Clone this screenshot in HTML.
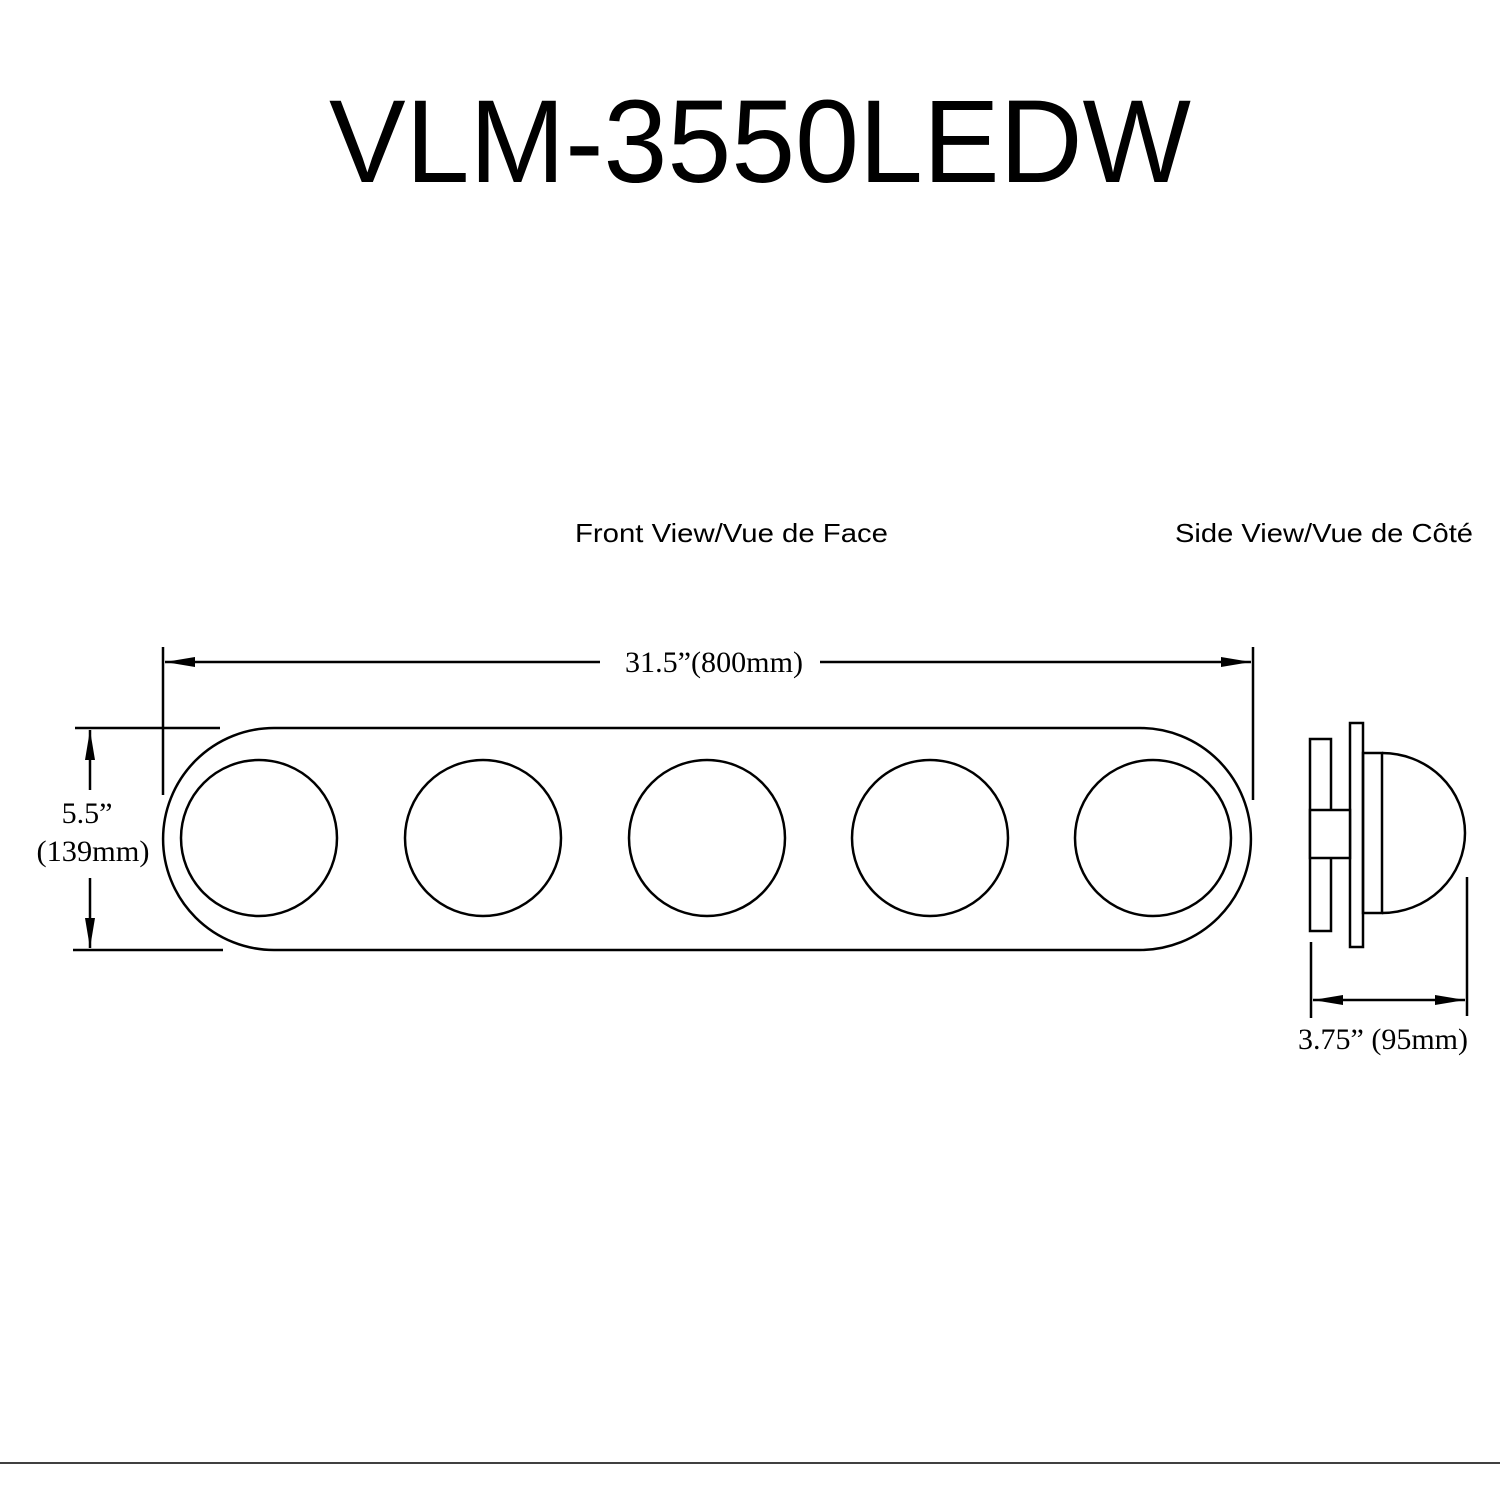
<!DOCTYPE html>
<html><head><meta charset="utf-8"><style>body{margin:0;background:#fff}svg{display:block}</style></head><body>
<svg width="1500" height="1500" viewBox="0 0 1500 1500" xmlns="http://www.w3.org/2000/svg">
<defs>
<marker id="a" viewBox="0 0 30 10" refX="30" refY="5" markerWidth="30" markerHeight="10" markerUnits="userSpaceOnUse" orient="auto"><path d="M0,0L30,5L0,10z" fill="#000"/></marker>
</defs>
<text x="760" y="182" font-family="Liberation Sans, sans-serif" font-size="118" text-anchor="middle" textLength="862" lengthAdjust="spacingAndGlyphs">VLM-3550LEDW</text>
<g font-family="Liberation Sans, sans-serif" font-size="26">
<text x="575" y="542" textLength="313" lengthAdjust="spacingAndGlyphs">Front View/Vue de Face</text>
<text x="1175" y="542" textLength="298" lengthAdjust="spacingAndGlyphs">Side View/Vue de Côté</text>
</g>
<g fill="none" stroke="#000" stroke-width="2.5">
<path d="M274,728H1140A111,111 0 0 1 1140,950H274A111,111 0 0 1 274,728Z"/>
<circle cx="259" cy="838" r="78"/><circle cx="483" cy="838" r="78"/><circle cx="707" cy="838" r="78"/><circle cx="930" cy="838" r="78"/><circle cx="1153" cy="838" r="78"/>
<path d="M163,647V795M1253,647V800M75,728H220M73,950H223"/>
<path d="M600,662H165" marker-end="url(#a)"/><path d="M820,662H1251" marker-end="url(#a)"/>
<path d="M90,790V730" marker-end="url(#a)"/><path d="M90,878V948" marker-end="url(#a)"/>
<rect x="1310" y="739" width="21" height="192"/><rect x="1350" y="723" width="13" height="224"/>
<rect x="1310" y="810" width="40" height="48" fill="#fff"/>
<rect x="1363" y="753" width="19" height="160"/>
<path d="M1382,753A83,80 0 0 1 1382,913"/>
<path d="M1311,942V1018M1467,877V1016"/>
<path d="M1390,1000H1313" marker-end="url(#a)"/><path d="M1390,1000H1465" marker-end="url(#a)"/>
<path d="M0,1463H1500" stroke-width="1.5"/>
</g>
<g font-family="Liberation Serif, serif" font-size="30" text-anchor="middle">
<text x="714" y="672" textLength="178" lengthAdjust="spacingAndGlyphs">31.5”(800mm)</text>
<text x="87" y="823">5.5”</text>
<text x="93" y="861" textLength="113" lengthAdjust="spacingAndGlyphs">(139mm)</text>
<text x="1383" y="1049" textLength="170" lengthAdjust="spacingAndGlyphs">3.75” (95mm)</text>
</g>
</svg>
</body></html>
